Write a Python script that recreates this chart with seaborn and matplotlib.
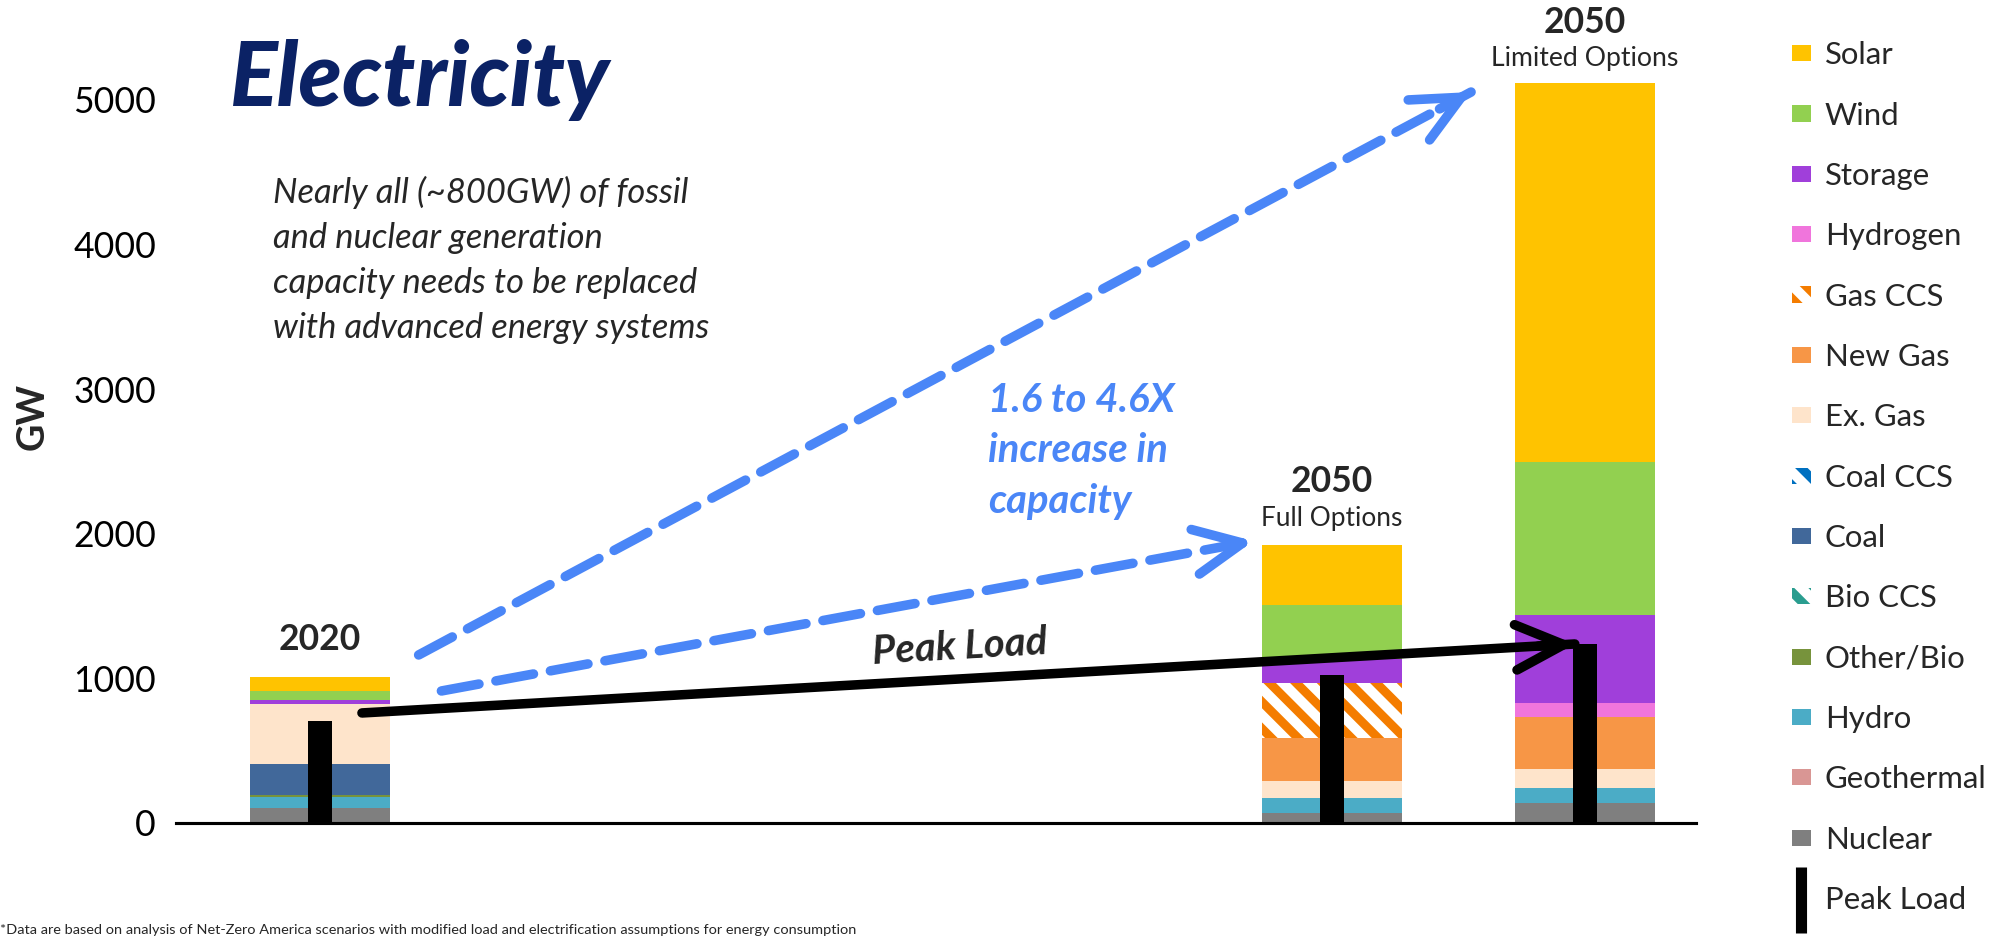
import matplotlib.pyplot as plt
import matplotlib.patches as mpatches
from matplotlib.lines import Line2D
import pandas as pd
import seaborn as sns

# bars: 2020 and the two 2050 cases (x = plot position)
scenarios = ["2020", "2050 Full Options", "2050 Limited Options"]
positions = [0, 4, 5]

# installed capacity, GW
nuclear = [103, 72, 135]
geothermal = [0, 0, 0]
hydro = [74, 100, 110]
other_bio = [18, 0, 0]
bio_ccs = [0, 0, 0]
coal = [212, 0, 0]
coal_ccs = [0, 0, 0]
ex_gas = [414, 115, 131]
new_gas = [0, 299, 355]
gas_ccs = [0, 379, 0]
hydrogen = [0, 0, 97]
storage = [32, 172, 613]
wind = [60, 372, 1056]
solar = [97, 416, 2620]
peak_load = [703, 1021, 1238]

tech_names = ["Nuclear", "Geothermal", "Hydro", "Other/Bio", "Bio CCS", "Coal", "Coal CCS",
              "Ex. Gas", "New Gas", "Gas CCS", "Hydrogen", "Storage", "Wind", "Solar"]
tech_colors = ["#7F7F7F", "#D99694", "#4BACC6", "#77933C", "#2A9D8F", "#41689A", "#0070C0",
               "#FEE4CB", "#F79646", "#F47C00", "#F075DC", "#A03FDA", "#92D050", "#FFC300"]
tech_hatch = [None, None, None, None, "\\\\", None, "\\\\", None, None, "\\\\", None, None, None, None]

cap = pd.DataFrame(dict(zip(tech_names, [nuclear, geothermal, hydro, other_bio, bio_ccs, coal,
                                         coal_ccs, ex_gas, new_gas, gas_ccs, hydrogen, storage,
                                         wind, solar])), index=scenarios)
tops = cap.cumsum(axis=1)

sns.set_theme(style="white")
plt.rcParams['font.family'] = ['Lato', 'DejaVu Sans']
plt.rcParams['hatch.linewidth'] = 4.0

DPI = 160
fig = plt.figure(figsize=(2008 / DPI, 937 / DPI), dpi=DPI)
ax = fig.add_axes([176 / 2008, 114 / 937, 1520 / 2008, 0.8488])

# stacked bars: draw cumulative totals from the top layer down
for name, color, hatch in reversed(list(zip(tech_names, tech_colors, tech_hatch))):
    face = "white" if hatch else color
    sns.barplot(x=positions, y=tops[name].values, native_scale=True, width=0.553,
                color=face, saturation=1, errorbar=None, linewidth=0,
                edgecolor=color, hatch=hatch, ax=ax)

# peak load
sns.barplot(x=positions, y=peak_load, native_scale=True, width=0.095, color="black",
            saturation=1, errorbar=None, linewidth=0, edgecolor="black", ax=ax)

ax.set_xlim(-0.569, 5.439)
ax.set_ylim(0, 5500)
ax.set_yticks([0, 1000, 2000, 3000, 4000, 5000])
ax.set_xticks([])
ax.set_xlabel("")
ax.set_ylabel("")
ax.tick_params(axis="y", length=0, pad=9, labelsize=16, labelcolor="black")
for s in ["left", "right", "top"]:
    ax.spines[s].set_visible(False)
ax.spines["bottom"].set_color("black")
ax.spines["bottom"].set_linewidth(1.4)
ax.set_zorder(1)

fig.text(0.016, 0.555, "GW", rotation=90, fontsize=17, fontweight="bold", ha="center", va="center")

# bar headers
ax.text(positions[0], 1266, "2020", ha="center", va="center", fontsize=16, fontweight="bold")
ax.text(positions[1], 2365, "2050", ha="center", va="center", fontsize=16, fontweight="bold")
ax.text(positions[1], 2109, "Full Options", ha="center", va="center", fontsize=11.8)
ax.text(positions[2], 5533, "2050", ha="center", va="center", fontsize=16, fontweight="bold")
ax.text(positions[2], 5284, "Limited Options", ha="center", va="center", fontsize=12)

# arrows
blue = "#4A86F7"


def arrow(start, end, color, style):
    ax.annotate("", xy=end, xytext=start,
                arrowprops=dict(arrowstyle="-", color=color, lw=4.3, linestyle=style,
                                shrinkA=0, shrinkB=0))
    near = (end[0] - 0.03 * (end[0] - start[0]), end[1] - 0.03 * (end[1] - start[1]))
    ax.annotate("", xy=end, xytext=near,
                arrowprops=dict(arrowstyle="->,head_length=1.8,head_width=0.85", color=color,
                                lw=4.3, shrinkA=0, shrinkB=0, capstyle="round",
                                joinstyle="round"))


arrow((0.39, 1162), (4.55, 5055), blue, (0, (4.0, 1.8)))
arrow((0.48, 913), (3.69, 1950), blue, (0, (4.0, 1.8)))
arrow((0.166, 761), (4.96, 1238), "black", "-")

ax.text(2.53, 1215, "Peak Load", rotation=3.3, ha="center", va="center", fontsize=18,
        fontweight="bold", style="italic")
ax.text(2.64, 3050, "1.6 to 4.6X\nincrease in\ncapacity", ha="left", va="top", fontsize=18,
        fontweight="bold", style="italic", color=blue, linespacing=1.45)

fig.text(230 / 2008, 1 - 106 / 937, "Electricity", fontsize=40, fontweight="black",
         style="italic", color="#0B2265", va="baseline")
fig.text(273 / 2008, 1 - 176 / 937,
         "Nearly all (~800GW) of fossil\nand nuclear generation\n"
         "capacity needs to be replaced\nwith advanced energy systems",
         fontsize=15.5, style="italic", va="top", linespacing=1.5)

fig.text(0.0, 0.001,
         "*Data are based on analysis of Net-Zero America scenarios with modified load and "
         "electrification assumptions for energy consumption",
         fontsize=6.5, va="bottom", ha="left")

# legend
handles = []
labels = []
for name, color, hatch in reversed(list(zip(tech_names, tech_colors, tech_hatch))):
    if hatch:
        handles.append(mpatches.Patch(facecolor="white", edgecolor=color, hatch=hatch, linewidth=0))
    else:
        handles.append(mpatches.Patch(facecolor=color, linewidth=0))
    labels.append(name)
handles.append(Line2D([], [], marker="|", markersize=30, markeredgewidth=5, linestyle="None",
                      color="black"))
labels.append("Peak Load")
fig.legend(handles, labels, loc="upper left", bbox_to_anchor=(1792 / 2008, 0.956),
           frameon=False, fontsize=14, handlelength=0.61, handleheight=0.42,
           handletextpad=0.45, labelspacing=1.04, borderpad=0, borderaxespad=0)

fig.savefig("out.png", dpi=DPI)
